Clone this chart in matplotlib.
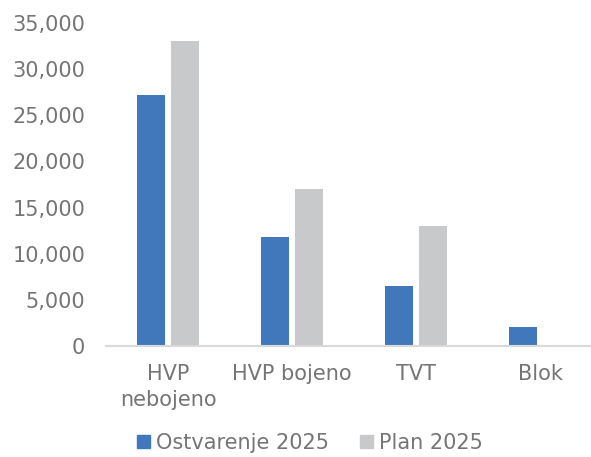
import matplotlib
matplotlib.use("Agg")
import matplotlib.pyplot as plt
from matplotlib.patches import Patch
import numpy as np

# Data
categories = ['HVP\nnebojeno', 'HVP bojeno', 'TVT', 'Blok']
ostvarenje = [27200, 11800, 6550, 2050]
plan = [33000, 17000, 13000, 0]

blue = '#4178BC'
grey = '#C8C9CB'
text_col = '#757575'

fig = plt.figure(figsize=(5.91, 4.57), dpi=100)
ax = fig.add_axes([106 / 591, 1 - 346 / 457, 496 / 591, (346 - 23) / 457])

x = np.arange(len(categories))
w = 0.226
off = 0.141
ax.bar(x - off, ostvarenje, width=w, color=blue, label='Ostvarenje 2025')
ax.bar(x + off, plan, width=w, color=grey, label='Plan 2025')

ax.set_xlim(-0.5, len(categories) - 0.5)
ax.set_ylim(0, 35000)
ax.set_yticks(range(0, 35001, 5000))
ax.set_yticklabels([f'{v:,}' for v in range(0, 35001, 5000)])
ax.set_xticks(x)
ax.set_xticklabels(categories, linespacing=1.35)

for side in ['top', 'right', 'left']:
    ax.spines[side].set_visible(False)
ax.spines['bottom'].set_color('#D9D9D9')
ax.spines['bottom'].set_linewidth(1.5)

ax.tick_params(axis='y', length=0, pad=15, labelsize=15, labelcolor=text_col)
ax.tick_params(axis='x', length=0, pad=13, labelsize=15, labelcolor=text_col)

handles = [Patch(color=blue, label='Ostvarenje 2025'), Patch(color=grey, label='Plan 2025')]
fig.legend(handles=handles, loc='center', bbox_to_anchor=(0.525, 0.031), ncol=2,
           frameon=False, fontsize=15, labelcolor=text_col,
           handlelength=0.6, handleheight=0.6, handletextpad=0.3, columnspacing=1.5)

fig.savefig('out.png', dpi=100)
